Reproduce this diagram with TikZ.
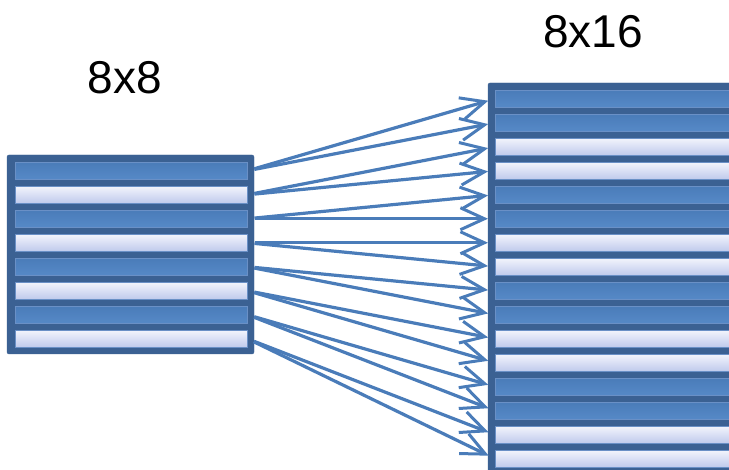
\documentclass[tikz,border=0pt]{standalone}
\usepackage{fontspec}
\setmainfont{Liberation Sans}
\usetikzlibrary{arrows.meta}
\definecolor{frame}{HTML}{3B6193}
\definecolor{darkA}{HTML}{4A7CB9}
\definecolor{darkB}{HTML}{5689C7}
\definecolor{lightA}{HTML}{F2F4FC}
\definecolor{lightB}{HTML}{BFCAEC}
\definecolor{edge}{HTML}{6A90C6}
\definecolor{arrowc}{HTML}{4A7CB9}
\tikzset{
  boxframe/.style={fill=frame, draw=frame, rounded corners=2pt},
  darkstripe/.style={rectangle, inner sep=0pt, minimum height=17pt, top color=darkA, bottom color=darkB, draw=edge, line width=0.5pt},
  lightstripe/.style={rectangle, inner sep=0pt, minimum height=17pt, top color=lightA, bottom color=lightB, draw=edge, line width=0.5pt},
  conn/.style={draw=arrowc, line width=3.2pt, -{Straight Barb[length=24pt,width=22pt,line width=3pt]}, shorten <=7pt, shorten >=7pt},
  lbl/.style={font=\fontsize{46}{50}\selectfont, inner sep=0pt}
}
\begin{document}
\begin{tikzpicture}[x=1pt,y=-1pt]
\useasboundingbox (0,0) rectangle (729,470);
\clip (0,0) rectangle (729,470);
% labels
\node[lbl] (t1) at (125,78) {8x8};
\node[lbl] (t2) at (593,32) {8x16};
% left box
\fill[boxframe] (7,155) rectangle (254,354);
\foreach \i in {0,...,7} {
  \pgfmathtruncatemacro{\odd}{mod(\i,2)}
  \ifnum\odd=0
    \node[darkstripe, minimum width=232pt, anchor=north west] (L\i) at (15,{162+24*\i}) {};
  \else
    \node[lightstripe, minimum width=232pt, anchor=north west] (L\i) at (15,{162+24*\i}) {};
  \fi
}
% right box
\fill[boxframe] (488,83) rectangle (745,480);
\foreach \j in {0,...,15} {
  \pgfmathtruncatemacro{\grp}{mod(\j,4)}
  \ifnum\grp<2
    \node[darkstripe, minimum width=250pt, anchor=north west] (R\j) at (495,{90+24*\j}) {};
  \else
    \node[lightstripe, minimum width=250pt, anchor=north west] (R\j) at (495,{90+24*\j}) {};
  \fi
}
% connectors
\foreach \i in {0,...,7} {
  \pgfmathtruncatemacro{\a}{2*\i}
  \pgfmathtruncatemacro{\b}{2*\i+1}
  \draw[conn] (L\i.east) -- (R\a.west);
  \draw[conn] (L\i.east) -- (R\b.west);
}
\end{tikzpicture}
\end{document}
